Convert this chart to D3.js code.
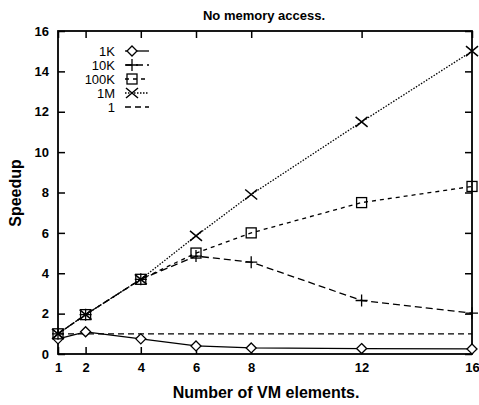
<!DOCTYPE html>
<html>
<head>
<meta charset="utf-8">
<script src="https://cdn.jsdelivr.net/npm/d3@7"></script>
<style>
  body { margin: 0; background: #fff; }
  svg { font-family: "Liberation Sans", Arial, sans-serif; }
</style>
</head>
<body>
<div id="chart"></div>
<script>
// values
const elements = [1, 2, 4, 6, 8, 12, 16];
const xTicks = [1, 2, 4, 6, 8, 12, 16];
const yTicks = [0, 2, 4, 6, 8, 10, 12, 14, 16];

const s1K = [0.75, 1.1, 0.75, 0.4, 0.3, 0.27, 0.25];
const s10K = [1.0, 1.95, 3.7, 4.85, 4.55, 2.65, 2.02];
const s100K = [1.0, 1.95, 3.7, 5.0, 6.0, 7.5, 8.3];
const s1M = [1.0, 1.95, 3.7, 5.85, 7.9, 11.5, 15.0];
const sOne = [1, 1, 1, 1, 1, 1, 1];

const seriesNames = ["1K", "10K", "100K", "1M", "1"];

const width = 479, height = 405;
const margin = { top: 31, right: 7, bottom: 51, left: 58 };
const w = width - margin.left - margin.right;
const h = height - margin.top - margin.bottom;

const svg = d3.select("#chart").append("svg")
  .attr("width", width)
  .attr("height", height);

const g = svg.append("g")
  .attr("transform", `translate(${margin.left},${margin.top})`);

const x = d3.scaleLinear().domain([1, 16]).range([0, w]);
const y = d3.scaleLinear().domain([0, 16]).range([h, 0]);

const series = [
  { name: seriesNames[0], values: s1K, dash: null, marker: "diamond" },
  { name: seriesNames[1], values: s10K, dash: "7,4", marker: "plus" },
  { name: seriesNames[2], values: s100K, dash: "4,4", marker: "square" },
  { name: seriesNames[3], values: s1M, dash: "1.5,1.5", marker: "cross" },
  { name: seriesNames[4], values: sOne, dash: "6,4", marker: null },
];

// axes, ticks pointing inward
const tick = 7;
const styleAxis = (sel) => {
  sel.select(".domain").remove();
  sel.selectAll(".tick line").attr("stroke", "#000").attr("stroke-width", 1.5);
  sel.selectAll("text")
    .attr("fill", "#000")
    .style("font-size", "13px")
    .style("font-weight", "bold");
};

g.append("g")
  .attr("transform", `translate(0,${h})`)
  .call(d3.axisBottom(x).tickValues(xTicks).tickSize(-tick).tickPadding(9))
  .call(styleAxis);

g.append("g")
  .call(d3.axisLeft(y).tickValues(yTicks).tickSize(-tick).tickPadding(9))
  .call(styleAxis);

g.append("g")
  .call(d3.axisTop(x).tickValues(xTicks).tickSize(-tick).tickFormat(""))
  .call(styleAxis);

g.append("g")
  .attr("transform", `translate(${w},0)`)
  .call(d3.axisRight(y).tickValues(yTicks).tickSize(-tick).tickFormat(""))
  .call(styleAxis);

g.append("rect")
  .attr("width", w)
  .attr("height", h)
  .attr("fill", "none")
  .attr("stroke", "#000")
  .attr("stroke-width", 1.8);

// lines
const line = d3.line()
  .x((d, i) => x(elements[i]))
  .y((d) => y(d));

series.forEach((s) => {
  g.append("path")
    .datum(s.values)
    .attr("fill", "none")
    .attr("stroke", "#000")
    .attr("stroke-width", 1.3)
    .attr("stroke-dasharray", s.dash)
    .attr("d", line);
});

function drawMarker(sel, type, cx, cy) {
  const m = sel.append("g").attr("transform", `translate(${cx},${cy})`);
  if (type === "diamond") {
    m.append("path").attr("d", "M0,-5L5,0L0,5L-5,0Z")
      .attr("fill", "#fff").attr("stroke", "#000").attr("stroke-width", 1.3);
  } else if (type === "plus") {
    m.append("path").attr("d", "M-6,0H6M0,-6V6")
      .attr("stroke", "#000").attr("stroke-width", 1.3);
  } else if (type === "square") {
    m.append("rect").attr("x", -5).attr("y", -5).attr("width", 10).attr("height", 10)
      .attr("fill", "none").attr("stroke", "#000").attr("stroke-width", 1.3);
  } else if (type === "cross") {
    m.append("path").attr("d", "M-6,-5L6,5M-6,5L6,-5")
      .attr("stroke", "#000").attr("stroke-width", 1.5);
  }
}

series.forEach((s) => {
  if (!s.marker) return;
  s.values.forEach((v, i) => drawMarker(g, s.marker, x(elements[i]), y(v)));
});

// legend
const legend = g.append("g").attr("transform", "translate(57,20)");
series.forEach((s, i) => {
  const row = legend.append("g").attr("transform", `translate(0,${i * 14})`);
  row.append("text")
    .attr("x", 0)
    .attr("y", 0)
    .attr("dy", "0.35em")
    .attr("text-anchor", "end")
    .style("font-size", "13px")
    .text(s.name);
  row.append("line")
    .attr("x1", 10).attr("x2", 34)
    .attr("stroke", "#000")
    .attr("stroke-width", 1.3)
    .attr("stroke-dasharray", s.dash);
  if (s.marker) drawMarker(row, s.marker, 17, 0);
});

// title and axis labels
svg.append("text")
  .attr("x", 264)
  .attr("y", 20)
  .attr("text-anchor", "middle")
  .style("font-size", "13px")
  .style("font-weight", "bold")
  .text("No memory access.");

svg.append("text")
  .attr("x", 266)
  .attr("y", 398)
  .attr("text-anchor", "middle")
  .style("font-size", "16px")
  .style("font-weight", "bold")
  .text("Number of VM elements.");

svg.append("text")
  .attr("transform", "translate(21,193) rotate(-90)")
  .attr("text-anchor", "middle")
  .style("font-size", "16px")
  .style("font-weight", "bold")
  .text("Speedup");
</script>
</body>
</html>
